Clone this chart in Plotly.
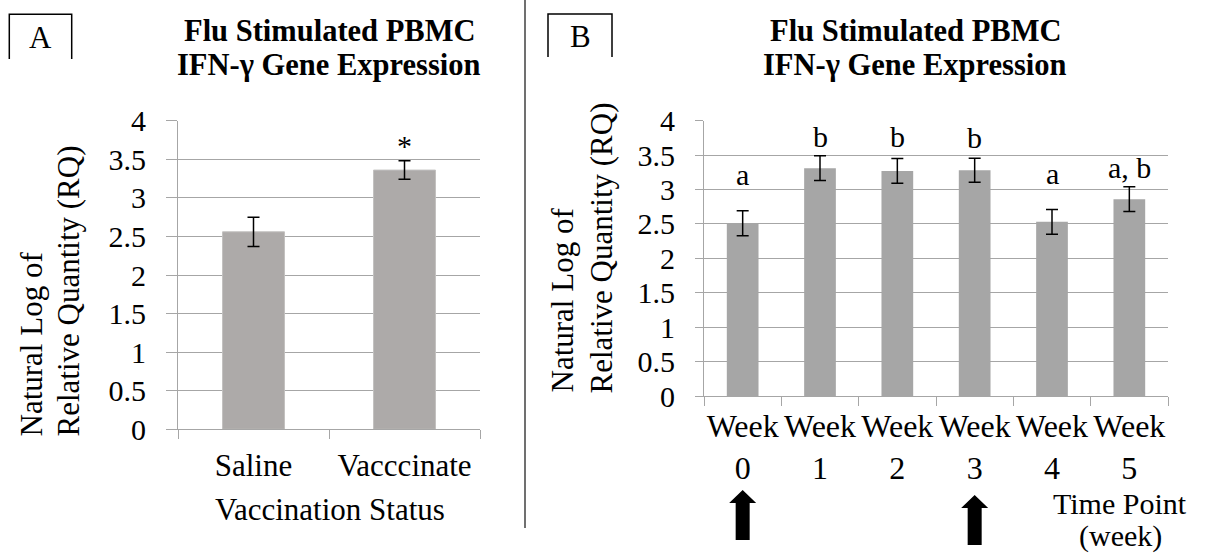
import plotly.graph_objects as go

W, H = 1206, 553
FONT = "Liberation Serif"

# Panel A: vaccination status
groups_a = ["Saline", "Vacccinate"]
mean_a = [2.56, 3.36]
err_a = [0.19, 0.12]
sig_a = ["", "*"]

# Panel B: time course
week_ticks = ["Week<br>0", "Week<br>1", "Week<br>2", "Week<br>3", "Week<br>4", "Week<br>5"]
mean_b = [2.51, 3.31, 3.27, 3.28, 2.53, 2.86]
err_b = [0.18, 0.18, 0.18, 0.175, 0.18, 0.18]
sig_b = ["a", "b", "b", "b", "a", "a, b"]
vaccination_weeks = [0, 3]

# ---- layout helpers (pixel -> paper) ----
def px(x):
    return x / W

def py(y):
    return 1 - y / H

def baseline_mid(baseline, size):
    # vertical centre of a text box whose baseline sits at `baseline` px
    return py(baseline - 0.3375 * size)

DOM_XA = [px(178), px(480)]
DOM_YA = [py(429.3), py(120.7)]
DOM_XB = [px(704), px(1168)]
DOM_YB = [py(396), py(120.7)]

GRID = "#a6a6a6"
BAR_A = "#adaaa9"
BAR_B = "#a6a6a6"

fig = go.Figure()

fig.add_trace(go.Bar(
    x=groups_a, y=mean_a, xaxis="x", yaxis="y",
    marker=dict(color=BAR_A, line=dict(color="#c2c0bf", width=1)),
    error_y=dict(type="data", array=err_a, color="black", thickness=1.5, width=6),
    showlegend=False,
))
fig.add_trace(go.Bar(
    x=week_ticks, y=mean_b, xaxis="x2", yaxis="y2",
    marker=dict(color=BAR_B, line=dict(width=0)),
    error_y=dict(type="data", array=err_b, color="black", thickness=1.5, width=6),
    showlegend=False,
))

yax_common = dict(
    range=[0, 4], dtick=0.5, showgrid=True, gridcolor=GRID, gridwidth=1,
    zeroline=False, showline=True, linecolor=GRID, linewidth=1,
    ticks="outside", tickcolor=GRID, tickwidth=1, automargin=False,
    tickfont=dict(family=FONT, size=30, color="black"),
    fixedrange=True,
)
xax_common = dict(
    type="category", showgrid=False, zeroline=False, showline=True,
    linecolor=GRID, linewidth=1, ticks="outside", tickson="boundaries",
    tickcolor=GRID, tickwidth=1, ticklen=9, tickangle=0, automargin=False,
    fixedrange=True,
)

fig.update_layout(
    width=W, height=H,
    margin=dict(l=0, r=0, t=0, b=0, pad=0, autoexpand=False),
    paper_bgcolor="white", plot_bgcolor="white",
    bargap=0.59,
    xaxis=dict(domain=DOM_XA, anchor="y", ticklabelstandoff=8,
               tickfont=dict(family=FONT, size=31, color="black"), **xax_common),
    yaxis=dict(domain=DOM_YA, anchor="x", ticklen=11, ticklabelstandoff=14, **yax_common),
    xaxis2=dict(domain=DOM_XB, anchor="y2", ticklabelstandoff=2,
                tickfont=dict(family=FONT, size=32, color="black"), **xax_common),
    yaxis2=dict(domain=DOM_YB, anchor="x2", ticklen=8, ticklabelstandoff=14, **yax_common),
)

anns = []

def text_at(text, xc, baseline, size, bold=False):
    anns.append(dict(
        text=f"<b>{text}</b>" if bold else text,
        x=px(xc), y=baseline_mid(baseline, size), xref="paper", yref="paper",
        xanchor="center", yanchor="middle", showarrow=False,
        font=dict(family=FONT, size=size, color="black"),
    ))

# Titles
for xc in (329, 915):
    text_at("Flu Stimulated PBMC", xc, 41.5, 30.5, bold=True)
    text_at("IFN-γ Gene Expression", xc, 75, 30.5, bold=True)

# Panel letters
text_at("A", 40.5, 47.5, 31)
text_at("B", 580, 47, 31)

# Axis titles
text_at("Vaccination Status", 330, 520, 31)
text_at("Time Point", 1120, 513.5, 30)
text_at("(week)", 1120, 546.5, 30)

# Rotated y titles, both lines start from the bottom
for xc, bottom, size, line in [
    (31, 438, 31, "Natural Log of"), (68, 438, 31, "Relative Quantity (RQ)"),
    (562, 394, 31, "Natural Log of"), (601, 395, 31, "Relative Quantity (RQ)"),
]:
    anns.append(dict(
        text=line, textangle=-90, x=px(xc), y=py(bottom),
        xref="paper", yref="paper", xanchor="center", yanchor="bottom",
        showarrow=False, borderpad=0,
        font=dict(family=FONT, size=size, color="black"),
    ))

# Significance marks
for g, m, e, s in zip(groups_a, mean_a, err_a, sig_a):
    if s:
        anns.append(dict(
            text=s, x=g, y=m + e, xref="x", yref="y", xanchor="center",
            yanchor="middle", yshift=5 + 0.3375 * 30, showarrow=False,
            font=dict(family=FONT, size=30, color="black"),
        ))

label_lift = [26, 9, 12, 11, 26, 9]  # px between error-bar top and label baseline
for w, m, e, s, lift in zip(week_ticks, mean_b, err_b, sig_b, label_lift):
    anns.append(dict(
        text=s, x=w, y=m + e, xref="x2", yref="y2", xanchor="center",
        yanchor="middle", yshift=lift + 0.3375 * 30, showarrow=False,
        font=dict(family=FONT, size=30, color="black"),
    ))

shapes = []

# Divider between panels
shapes.append(dict(type="line", xref="paper", yref="paper",
                   x0=px(525), x1=px(525), y0=py(0), y1=py(528),
                   line=dict(color="#404040", width=1.5)))

# Open boxes around the panel letters
for left, right, top, bottom in [(9.3, 71.7, 14.3, 59), (548, 612, 14, 57)]:
    shapes.append(dict(
        type="path", xref="paper", yref="paper",
        path=(f"M {px(left)} {py(bottom)} L {px(left)} {py(top)} "
              f"L {px(right)} {py(top)} L {px(right)} {py(bottom)}"),
        line=dict(color="black", width=1.5),
    ))

# Block arrows under the vaccination weeks
n_weeks = len(week_ticks)
arrow_tops = [490, 495]
for wk, top in zip(vaccination_weeks, arrow_tops):
    cx = 704 + (wk + 0.5) * (1168 - 704) / n_weeks
    head_base, tail = top + 13, top + 50
    hw, sw = 13.5, 7
    pts = [(cx, top), (cx + hw, head_base), (cx + sw, head_base), (cx + sw, tail),
           (cx - sw, tail), (cx - sw, head_base), (cx - hw, head_base)]
    path = "M " + " L ".join(f"{px(x)} {py(y)}" for x, y in pts) + " Z"
    shapes.append(dict(type="path", xref="paper", yref="paper", path=path,
                       fillcolor="black", line=dict(color="black", width=0)))

fig.update_layout(annotations=anns, shapes=shapes)

fig.write_html("out.html")
